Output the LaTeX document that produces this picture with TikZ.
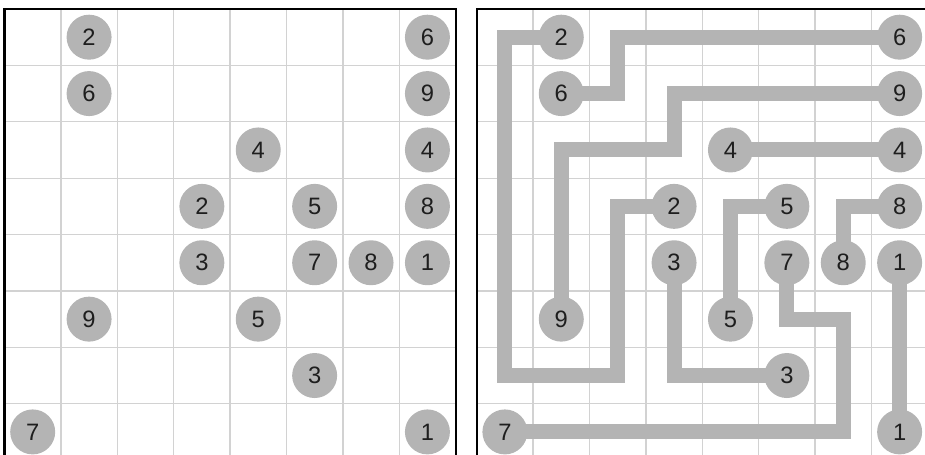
\documentclass[tikz,border=0pt]{standalone}
\usepackage{fontspec}
\setsansfont{Liberation Sans}
\usetikzlibrary{positioning}
\definecolor{cgrid}{HTML}{D2D2D2}
\definecolor{cstone}{HTML}{B4B4B4}
\definecolor{cdigit}{HTML}{1E1E1E}
\tikzset{
  every picture/.style={font=\sffamily},
  gridline/.style={draw=cgrid, line width=0.75pt},
  frame/.style={draw=black, line width=1.2pt},
  stone/.style={circle, fill=cstone, text=cdigit, minimum size=0.9cm, inner sep=0pt, font=\sffamily\fontsize{13.5}{15}\selectfont},
  link/.style={draw=cstone, line width=0.3cm},
}
\newcommand{\clues}{1/0/2, 7/0/6, 1/1/6, 7/1/9, 4/2/4, 7/2/4, 3/3/2, 5/3/5, 7/3/8,
  3/4/3, 5/4/7, 6/4/8, 7/4/1, 1/5/9, 4/5/5, 5/6/3, 0/7/7, 7/7/1}

\begin{document}
\begin{tikzpicture}[x=0.02cm, y=-0.02cm]
  \useasboundingbox (0,0) rectangle (925,455);
  \foreach \gx/\g in {4.5/l, 476.7/r} {
    \begin{scope}[shift={(\gx,9)}, x=1.128cm, y=-1.128cm]
      \foreach \i in {1,...,7} {
        \draw[gridline] (\i,0) -- (\i,8);
        \draw[gridline] (0,\i) -- (8,\i);
      }
      \draw[frame] (0,0) rectangle (8,8);
      \foreach \c in {0,...,7}
        \foreach \r in {0,...,7}
          \coordinate (\g-\c-\r) at (\c+.5,\r+.5);
    \end{scope}
  }
  \draw[link] (r-1-0) -- (r-0-0) -- (r-0-6) -- (r-2-6) -- (r-2-3) -- (r-3-3);
  \draw[link] (r-1-1) -- (r-2-1) -- (r-2-0) -- (r-7-0);
  \draw[link] (r-1-5) -- (r-1-2) -- (r-3-2) -- (r-3-1) -- (r-7-1);
  \draw[link] (r-4-2) -- (r-7-2);
  \draw[link] (r-5-3) -- (r-4-3) -- (r-4-5);
  \draw[link] (r-7-3) -- (r-6-3) -- (r-6-4);
  \draw[link] (r-3-4) -- (r-3-6) -- (r-5-6);
  \draw[link] (r-5-4) -- (r-5-5) -- (r-6-5) -- (r-6-7) -- (r-0-7);
  \draw[link] (r-7-4) -- (r-7-7);
  \foreach \g in {l, r}
    \foreach \c/\r/\n in \clues
      \node[stone] (\g-stone-\c-\r) at (\g-\c-\r) {\n};
\end{tikzpicture}
\end{document}
